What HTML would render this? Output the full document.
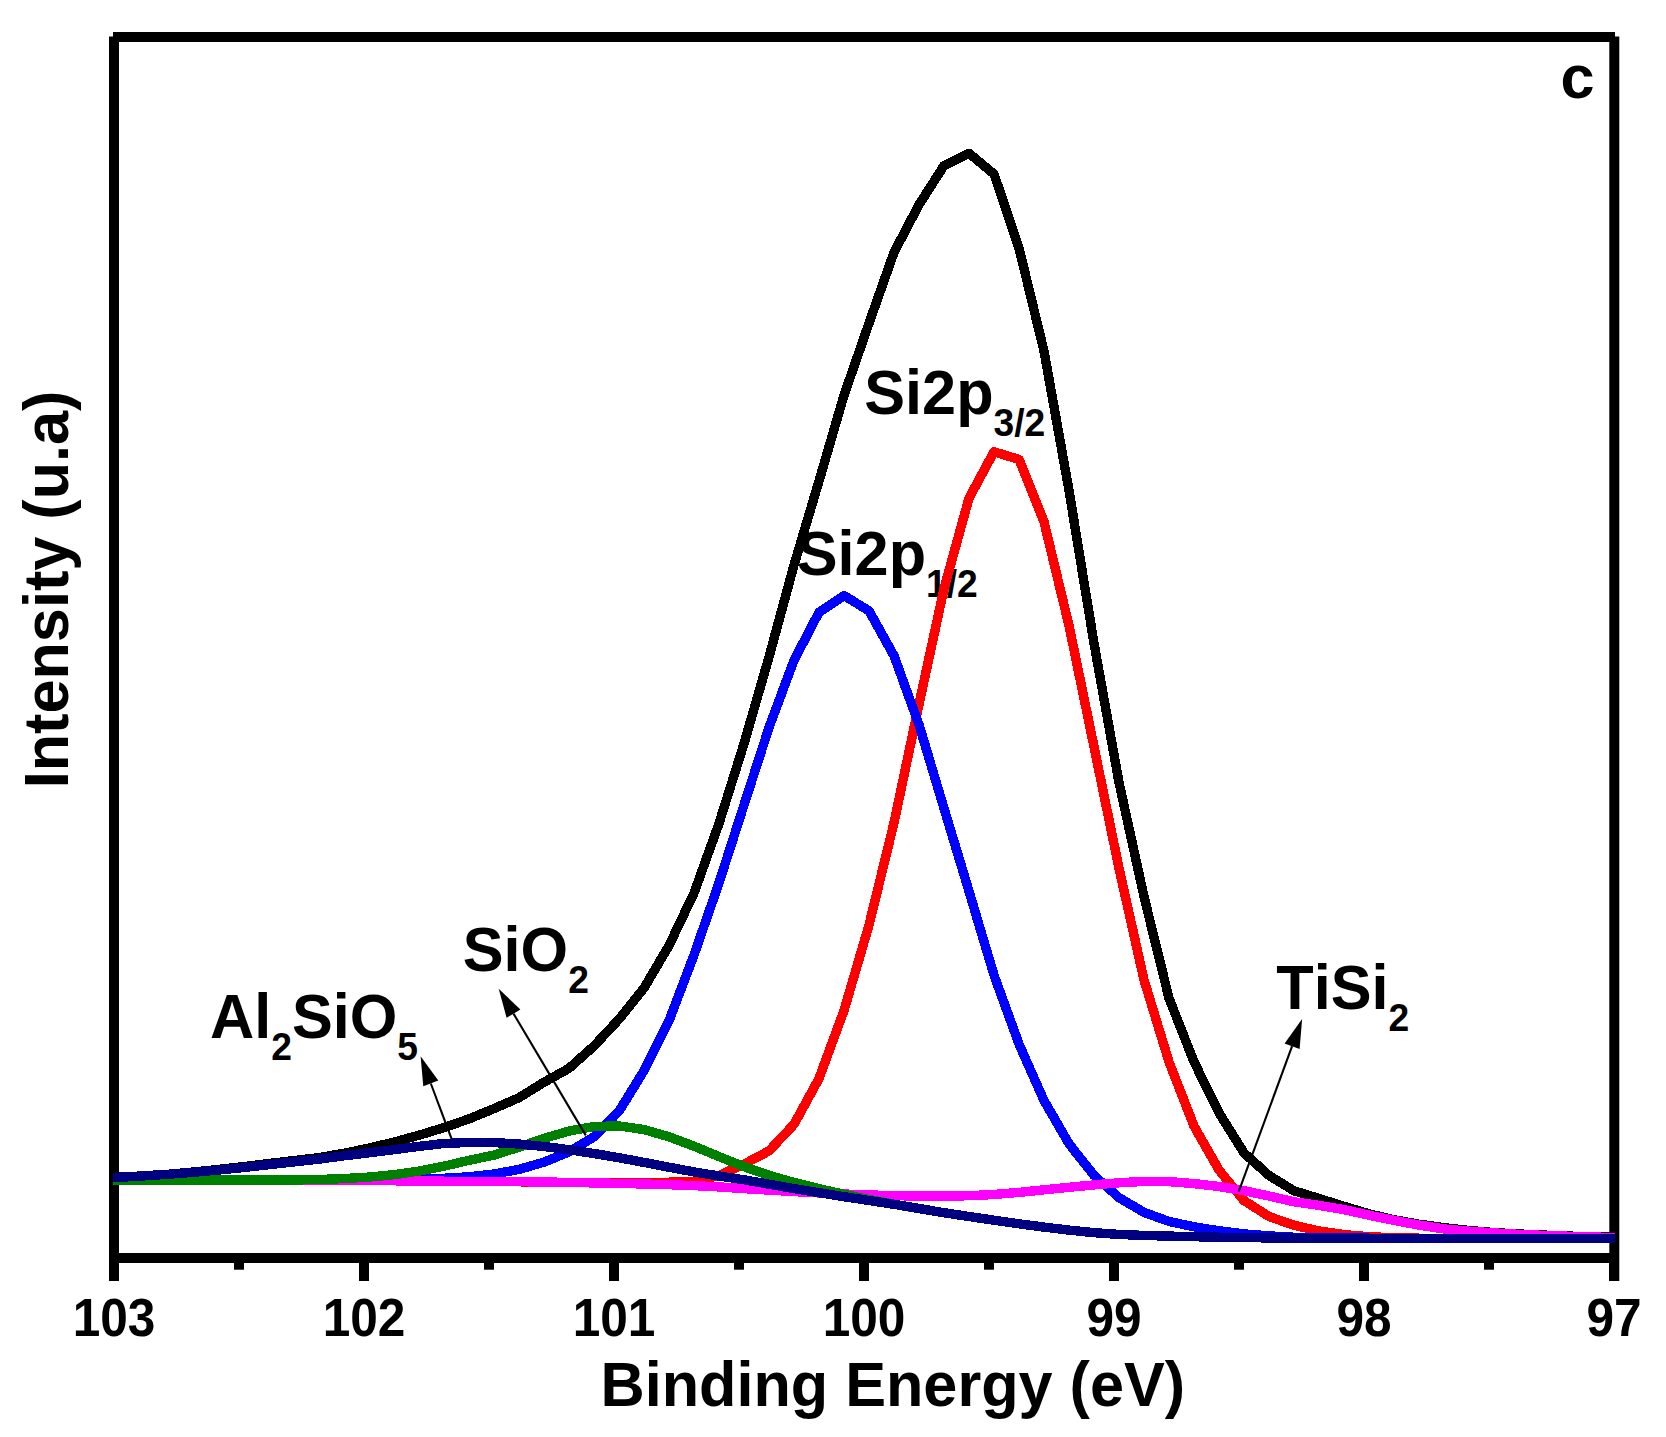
<!DOCTYPE html>
<html><head><meta charset="utf-8"><title>Si2p XPS</title>
<style>
html,body{margin:0;padding:0;background:#fff;overflow:hidden;}
svg{display:block;}
text{font-family:"Liberation Sans",Arial,Helvetica,sans-serif;font-weight:bold;fill:#000;font-kerning:none;}
</style></head><body>
<svg width="1666" height="1437" viewBox="0 0 1666 1437">
<rect x="0" y="0" width="1666" height="1437" fill="#fff"/>
<g fill="#000">
<rect x="113" y="32" width="1502" height="10"/>
<rect x="109" y="36.5" width="10" height="1244.5"/>
<rect x="1609.3" y="36.5" width="10" height="1244.5"/>
<rect x="109" y="1253" width="1510" height="10"/>
<rect x="109" y="1258" width="10" height="23"/><rect x="359" y="1258" width="10" height="23"/><rect x="609" y="1258" width="10" height="23"/><rect x="859" y="1258" width="10" height="23"/><rect x="1109" y="1258" width="10" height="23"/><rect x="1359" y="1258" width="10" height="23"/><rect x="1609" y="1258" width="10" height="23"/><rect x="234" y="1258" width="10" height="11.7"/><rect x="484" y="1258" width="10" height="11.7"/><rect x="734" y="1258" width="10" height="11.7"/><rect x="984" y="1258" width="10" height="11.7"/><rect x="1234" y="1258" width="10" height="11.7"/><rect x="1484" y="1258" width="10" height="11.7"/>
</g>
<defs><clipPath id="cp"><rect x="113" y="42" width="1502" height="1211"/></clipPath></defs>
<text transform="translate(864.3,414) scale(1,1.04)" font-size="61.2">Si2p<tspan font-size="37.2" dy="21.5">3/2</tspan></text>
<text transform="translate(796.8,575.1) scale(1,1.04)" font-size="61.2">Si2p<tspan font-size="37.2" dy="21.5">1/2</tspan></text>
<text transform="translate(462.8,971) scale(1,1.04)" font-size="61.2">SiO<tspan font-size="37.2" dy="21.5">2</tspan></text>
<text transform="translate(210,1038.1) scale(1,1.04)" font-size="61.2">Al<tspan font-size="37.2" dy="21.5">2</tspan><tspan dy="-21.5">SiO</tspan><tspan font-size="37.2" dy="21.5">5</tspan></text>
<text transform="translate(1276.3,1008.9) scale(1,1.04)" font-size="61.2">TiSi<tspan font-size="37.2" dy="21.5">2</tspan></text>
<g clip-path="url(#cp)" shape-rendering="crispEdges">
<polyline points="94.0,1177.9 119.0,1177.2 144.0,1175.8 169.0,1174.2 194.0,1172.0 219.0,1169.4 244.0,1166.6 269.0,1163.5 294.0,1160.6 319.0,1157.6 344.0,1153.3 369.0,1148.1 394.0,1142.1 419.0,1135.2 444.0,1127.6 469.0,1118.9 494.0,1108.6 519.0,1097.7 544.0,1082.2 569.0,1068.3 594.0,1046.0 619.0,1019.2 644.0,988.0 669.0,945.6 694.0,893.1 719.0,823.5 744.0,743.7 769.0,657.0 794.0,565.1 819.0,481.1 844.0,395.3 869.0,323.2 894.0,252.4 919.0,204.7 944.0,165.6 969.0,153.3 994.0,174.0 1019.0,248.1 1044.0,351.1 1069.0,490.4 1094.0,643.3 1119.0,782.5 1144.0,896.6 1169.0,998.2 1194.0,1061.8 1219.0,1112.8 1244.0,1152.9 1269.0,1175.5 1294.0,1190.8 1319.0,1198.5 1344.0,1206.3 1369.0,1213.8 1394.0,1219.7 1419.0,1224.2 1444.0,1227.7 1469.0,1230.5 1494.0,1232.6 1519.0,1234.0 1544.0,1235.1 1569.0,1236.1 1594.0,1236.8 1619.0,1237.2" fill="none" stroke="#000000" stroke-width="9.4" stroke-linejoin="round"/>
<polyline points="94.0,1180.2 119.0,1180.2 144.0,1180.2 169.0,1180.1 194.0,1180.1 219.0,1180.1 244.0,1180.1 269.0,1180.2 294.0,1180.2 319.0,1180.2 344.0,1180.3 369.0,1180.5 394.0,1180.7 419.0,1180.9 444.0,1181.1 469.0,1181.3 494.0,1181.5 519.0,1181.8 544.0,1182.0 569.0,1182.4 594.0,1182.7 619.0,1182.7 644.0,1182.6 669.0,1182.2 694.0,1181.2 719.0,1175.5 744.0,1164.2 769.0,1150.9 794.0,1124.3 819.0,1078.5 844.0,1010.5 869.0,925.1 894.0,822.8 919.0,704.2 944.0,588.7 969.0,498.1 994.0,451.8 1019.0,459.4 1044.0,521.8 1069.0,625.6 1094.0,746.7 1119.0,868.3 1144.0,979.9 1169.0,1061.9 1194.0,1126.1 1219.0,1170.1 1244.0,1200.6 1269.0,1216.5 1294.0,1225.3 1319.0,1230.9 1344.0,1234.6 1369.0,1236.7 1394.0,1237.8 1419.0,1238.2 1444.0,1238.3 1469.0,1238.2 1494.0,1238.2 1519.0,1238.3 1544.0,1238.4 1569.0,1238.4 1594.0,1238.5 1619.0,1238.6" fill="none" stroke="#FF0000" stroke-width="9.4" stroke-linejoin="round"/>
<polyline points="94.0,1180.3 119.0,1180.2 144.0,1180.2 169.0,1180.3 194.0,1180.3 219.0,1180.3 244.0,1180.3 269.0,1180.3 294.0,1180.2 319.0,1180.1 344.0,1180.1 369.0,1179.9 394.0,1179.7 419.0,1179.2 444.0,1178.3 469.0,1176.8 494.0,1174.0 519.0,1169.4 544.0,1162.1 569.0,1152.0 594.0,1136.7 619.0,1111.3 644.0,1070.6 669.0,1020.8 694.0,955.0 719.0,882.9 744.0,804.9 769.0,727.5 794.0,660.3 819.0,612.3 844.0,595.6 869.0,610.8 894.0,655.8 919.0,724.7 944.0,808.3 969.0,891.3 994.0,975.1 1019.0,1044.1 1044.0,1100.5 1069.0,1143.8 1094.0,1175.4 1119.0,1197.6 1144.0,1212.4 1169.0,1221.4 1194.0,1226.8 1219.0,1230.8 1244.0,1233.9 1269.0,1235.9 1294.0,1237.3 1319.0,1237.9 1344.0,1238.1 1369.0,1238.2 1394.0,1238.3 1419.0,1238.4 1444.0,1238.4 1469.0,1238.5 1494.0,1238.5 1519.0,1238.5 1544.0,1238.5 1569.0,1238.5 1594.0,1238.6 1619.0,1238.6" fill="none" stroke="#0000FF" stroke-width="9.4" stroke-linejoin="round"/>
<polyline points="94.0,1180.2 119.0,1180.2 144.0,1180.1 169.0,1180.1 194.0,1180.0 219.0,1180.0 244.0,1180.1 269.0,1180.1 294.0,1180.2 319.0,1180.3 344.0,1180.4 369.0,1180.6 394.0,1180.8 419.0,1181.0 444.0,1181.2 469.0,1181.4 494.0,1181.4 519.0,1181.7 544.0,1182.0 569.0,1182.4 594.0,1182.9 619.0,1183.4 644.0,1184.0 669.0,1184.7 694.0,1185.6 719.0,1186.9 744.0,1188.6 769.0,1190.1 794.0,1191.6 819.0,1192.9 844.0,1194.0 869.0,1195.0 894.0,1195.6 919.0,1196.1 944.0,1196.2 969.0,1195.7 994.0,1194.5 1019.0,1192.4 1044.0,1189.8 1069.0,1187.3 1094.0,1184.9 1119.0,1182.8 1144.0,1181.4 1169.0,1181.6 1194.0,1183.6 1219.0,1186.5 1244.0,1190.7 1269.0,1196.0 1294.0,1201.8 1319.0,1205.4 1344.0,1209.6 1369.0,1215.2 1394.0,1220.4 1419.0,1225.1 1444.0,1228.9 1469.0,1231.2 1494.0,1232.9 1519.0,1234.4 1544.0,1235.4 1569.0,1236.3 1594.0,1237.1 1619.0,1237.5" fill="none" stroke="#FF00FF" stroke-width="9.4" stroke-linejoin="round"/>
<polyline points="94.0,1180.3 119.0,1180.3 144.0,1180.2 169.0,1180.1 194.0,1180.1 219.0,1180.0 244.0,1180.0 269.0,1180.0 294.0,1180.0 319.0,1179.5 344.0,1178.6 369.0,1177.1 394.0,1174.7 419.0,1171.1 444.0,1166.2 469.0,1160.3 494.0,1155.1 519.0,1147.2 544.0,1138.3 569.0,1131.1 594.0,1126.5 619.0,1125.9 644.0,1129.6 669.0,1136.8 694.0,1146.2 719.0,1156.6 744.0,1166.7 769.0,1175.3 794.0,1182.4 819.0,1188.7 844.0,1194.3 869.0,1199.5 894.0,1204.3 919.0,1208.6 944.0,1212.7 969.0,1216.5 994.0,1220.2 1019.0,1223.8 1044.0,1227.1 1069.0,1230.1 1094.0,1232.7 1119.0,1234.4 1144.0,1235.4 1169.0,1236.1 1194.0,1236.7 1219.0,1237.2 1244.0,1237.6 1269.0,1237.9 1294.0,1238.2 1319.0,1238.3 1344.0,1238.4 1369.0,1238.4 1394.0,1238.5 1419.0,1238.5 1444.0,1238.5 1469.0,1238.5 1494.0,1238.6 1519.0,1238.6 1544.0,1238.7 1569.0,1238.7 1594.0,1238.7 1619.0,1238.8" fill="none" stroke="#008000" stroke-width="9.4" stroke-linejoin="round"/>
<polyline points="94.0,1178.6 119.0,1177.3 144.0,1175.9 169.0,1174.2 194.0,1172.2 219.0,1170.0 244.0,1167.5 269.0,1164.7 294.0,1161.9 319.0,1159.1 344.0,1155.8 369.0,1152.8 394.0,1149.7 419.0,1146.3 444.0,1143.5 469.0,1142.4 494.0,1142.6 519.0,1144.0 544.0,1146.5 569.0,1149.7 594.0,1153.5 619.0,1157.7 644.0,1162.4 669.0,1167.2 694.0,1171.9 719.0,1176.0 744.0,1179.8 769.0,1184.2 794.0,1188.6 819.0,1192.7 844.0,1196.7 869.0,1200.5 894.0,1204.3 919.0,1208.5 944.0,1212.7 969.0,1216.5 994.0,1220.2 1019.0,1223.8 1044.0,1227.1 1069.0,1230.1 1094.0,1232.7 1119.0,1234.4 1144.0,1235.5 1169.0,1236.1 1194.0,1236.7 1219.0,1237.2 1244.0,1237.6 1269.0,1237.9 1294.0,1238.2 1319.0,1238.3 1344.0,1238.4 1369.0,1238.5 1394.0,1238.5 1419.0,1238.5 1444.0,1238.5 1469.0,1238.5 1494.0,1238.5 1519.0,1238.6 1544.0,1238.6 1569.0,1238.6 1594.0,1238.6 1619.0,1238.8" fill="none" stroke="#000080" stroke-width="9.4" stroke-linejoin="round"/>
</g>
<line x1="451.7" y1="1139.2" x2="430.8" y2="1083.5" stroke="#000" stroke-width="2.1"/><polygon points="420.6,1056.3 438.3,1080.6 423.3,1086.3" fill="#000"/>
<line x1="585.8" y1="1135.4" x2="513.5" y2="1013.6" stroke="#000" stroke-width="2.1"/><polygon points="498.7,988.7 520.4,1009.6 506.6,1017.7" fill="#000"/>
<line x1="1238.7" y1="1191.6" x2="1292.1" y2="1046.2" stroke="#000" stroke-width="2.1"/><polygon points="1302.1,1019.0 1299.6,1049.0 1284.6,1043.5" fill="#000"/>
<text transform="translate(114,1336) scale(1,1.065)" font-size="49.6" text-anchor="middle">103</text><text transform="translate(364,1336) scale(1,1.065)" font-size="49.6" text-anchor="middle">102</text><text transform="translate(614,1336) scale(1,1.065)" font-size="49.6" text-anchor="middle">101</text><text transform="translate(864,1336) scale(1,1.065)" font-size="49.6" text-anchor="middle">100</text><text transform="translate(1114,1336) scale(1,1.065)" font-size="49.6" text-anchor="middle">99</text><text transform="translate(1364,1336) scale(1,1.065)" font-size="49.6" text-anchor="middle">98</text><text transform="translate(1614,1336) scale(1,1.065)" font-size="49.6" text-anchor="middle">97</text>
<text transform="translate(1560.5,98.2) scale(1,1.0)" font-size="61.2">c</text>
<text transform="translate(600.5,1405.5) scale(1,1.03)" font-size="61.2">Binding Energy (eV)</text>
<text transform="translate(68.1,788.3) rotate(-90) scale(1,1.03)" font-size="61.2">Intensity (u.a)</text>
</svg>
</body></html>
